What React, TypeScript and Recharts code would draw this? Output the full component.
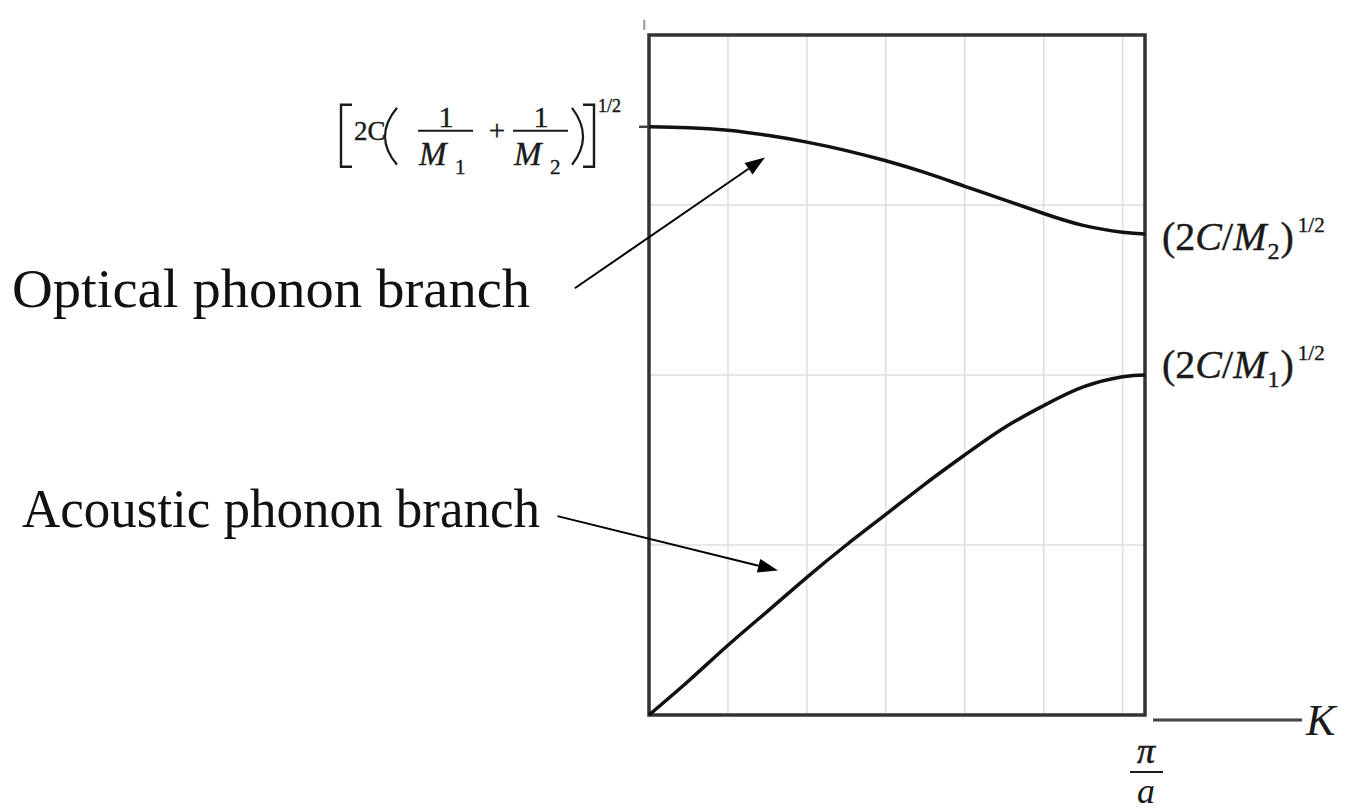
import React from "react";
import {
  LineChart,
  Line,
  XAxis,
  YAxis,
  CartesianGrid,
  ReferenceArea,
  ReferenceLine,
} from "recharts";

// K·a across the first Brillouin zone, 0 .. π
const kValues = [0, 0.25, 0.5, 0.75, 1, 1.25, 1.5, 1.75, 2, 2.25, 2.5, 2.75, 3, Math.PI];
// ω for the two branches (same arbitrary units as the grid)
const opticalBranch = [3.46, 3.455, 3.44, 3.41, 3.37, 3.32, 3.26, 3.19, 3.11, 3.03, 2.95, 2.88, 2.84, 2.83];
const acousticBranch = [0, 0.2, 0.41, 0.61, 0.81, 1.0, 1.18, 1.36, 1.53, 1.69, 1.82, 1.93, 1.99, 2.0];

const gridK = [0, 0.5, 1, 1.5, 2, 2.5, 3, Math.PI];
const gridW = [1, 2, 3];
const branchNames = ["Optical phonon branch", "Acoustic phonon branch"];

const rows = kValues.map((k, i) => ({
  k,
  optical: opticalBranch[i],
  acoustic: acousticBranch[i],
}));

// arrow annotations, in chart units (tail -> head)
const arrows = [
  [{ x: -0.47, y: 2.51 }, { x: 0.735, y: 3.28 }],
  [{ x: -0.58, y: 1.17 }, { x: 0.817, y: 0.85 }],
];

const MATH = "'Liberation Serif', 'Times New Roman', serif";
const TEXT = "'Liberation Serif', 'Times New Roman', serif";
const INK = "#1a1a1a";
const W_DOMAIN: [number, number] = [0, 4];

const Arrow = (props: any) => {
  const { x1, y1, x2, y2 } = props;
  const a = Math.atan2(y2 - y1, x2 - x1);
  const len = 20;
  const half = 7;
  const bx = x2 - len * Math.cos(a);
  const by = y2 - len * Math.sin(a);
  const px = half * Math.sin(a);
  const py = -half * Math.cos(a);
  return (
    <g>
      <line x1={x1} y1={y1} x2={bx} y2={by} stroke="#000" strokeWidth={2} />
      <polygon
        points={`${x2},${y2} ${bx + px},${by + py} ${bx - px},${by - py}`}
        fill="#000"
      />
    </g>
  );
};

// [2C(1/M1 + 1/M2)]^1/2 next to the left tick
const ZoneCentreTick = (props: any) => {
  const ex = props.x;
  const ey = props.y;
  const frac = (left: number, sub: string) => (
    <g>
      <text x={left + 28} y={ey} fontSize={30} textAnchor="middle">1</text>
      <line x1={left} x2={left + 55} y1={ey + 4} y2={ey + 4} stroke={INK} strokeWidth={2} />
      <text x={left + 1} y={ey + 38} fontSize={33} fontStyle="italic">M</text>
      <text x={left + 37} y={ey + 47} fontSize={21}>{sub}</text>
    </g>
  );
  return (
    <g fill={INK} fontFamily={MATH} stroke={INK} strokeWidth={0.4}>
      <path
        d={`M${ex - 284} ${ey - 22} H${ex - 295} V${ey + 40} H${ex - 284}`}
        strokeWidth={2.4}
        fill="none"
      />
      <text x={ex - 282} y={ey + 13} fontSize={27}>2C</text>
      <path
        d={`M${ex - 239} ${ey - 19} Q${ex - 263} ${ey + 10} ${ex - 239} ${ey + 38}`}
        strokeWidth={2.2}
        fill="none"
      />
      {frac(ex - 218, "1")}
      <text x={ex - 139} y={ey + 13} fontSize={29} textAnchor="middle">+</text>
      {frac(ex - 123, "2")}
      <path
        d={`M${ex - 64} ${ey - 19} Q${ex - 42} ${ey + 10} ${ex - 64} ${ey + 38}`}
        strokeWidth={2.2}
        fill="none"
      />
      <path
        d={`M${ex - 53} ${ey - 22} H${ex - 42} V${ey + 40} H${ex - 53}`}
        strokeWidth={2.4}
        fill="none"
      />
      <text x={ex - 38} y={ey - 15} fontSize={18}>1/2</text>
    </g>
  );
};

// (2C/M2)^1/2 and (2C/M1)^1/2 at the zone edge
const edgeMass = ["2", "1"];
const edgeShift = [16, 3];
const ZoneEdgeTick = (props: any) => {
  const { x, y, index } = props;
  const base = y + edgeShift[index];
  return (
    <text x={x} y={base} fontFamily={MATH} fontSize={40} fill={INK} stroke={INK} strokeWidth={0.4}>
      (2<tspan fontStyle="italic">C</tspan>/<tspan fontStyle="italic">M</tspan>
      <tspan fontSize={24} dy={9} dx={1}>{edgeMass[index]}</tspan>
      <tspan fontSize={40} dy={-9} dx={1}>)</tspan>
      <tspan fontSize={21} dy={-18} dx={4}>1/2</tspan>
    </text>
  );
};

// π/a under the zone edge, plus the K axis stub
const KTick = (props: any) => {
  const { x, y, payload } = props;
  if (payload.value !== Math.PI) return <g />;
  return (
    <g fontFamily={MATH} fill={INK}>
      <text x={x + 1} y={y + 48} fontSize={36} fontStyle="italic" textAnchor="middle" stroke={INK} strokeWidth={0.6}>π</text>
      <line x1={x - 15} x2={x + 18} y1={y + 57} y2={y + 57} stroke={INK} strokeWidth={2} />
      <text x={x + 1} y={y + 88} fontSize={36} fontStyle="italic" textAnchor="middle">a</text>
      <line x1={x + 8} x2={x + 157} y1={y + 5} y2={y + 5} stroke="#444" strokeWidth={3} />
      <text x={x + 161} y={y + 20} fontSize={44} fontStyle="italic">K</text>
    </g>
  );
};

export default function App() {
  return (
    <div style={{ position: "absolute", left: 0, top: 0, width: 1354, height: 811, background: "#fff" }}>
      <LineChart
        width={1354}
        height={811}
        data={rows}
        margin={{ top: 35, right: 9, bottom: 36, left: 329 }}
      >
        <CartesianGrid yAxisId="w" horizontalValues={gridW} stroke="#dedede" strokeWidth={1.5} />
        <XAxis
          dataKey="k"
          type="number"
          domain={[0, Math.PI]}
          ticks={gridK}
          interval={0}
          height={60}
          axisLine={false}
          tickLine={false}
          tickSize={0}
          tickMargin={0}
          tick={<KTick />}
        />
        <YAxis
          yAxisId="w"
          type="number"
          domain={W_DOMAIN}
          ticks={[opticalBranch[0]]}
          interval={0}
          width={320}
          axisLine={false}
          tickSize={10}
          tickMargin={3}
          tickLine={{ stroke: "#444", strokeWidth: 2.5 }}
          tick={<ZoneCentreTick />}
        />
        <YAxis
          yAxisId="wr"
          orientation="right"
          type="number"
          domain={W_DOMAIN}
          ticks={[opticalBranch[opticalBranch.length - 1], acousticBranch[acousticBranch.length - 1]]}
          interval={0}
          width={200}
          axisLine={false}
          tickLine={false}
          tickSize={0}
          tickMargin={17}
          tick={<ZoneEdgeTick />}
        />
        <ReferenceArea
          yAxisId="w"
          x1={0}
          x2={Math.PI}
          y1={0}
          y2={4}
          fill="none"
          stroke="#333"
          strokeWidth={3.5}
          ifOverflow="visible"
        />
        <ReferenceLine
          yAxisId="w"
          segment={[{ x: -0.03, y: 4.03 }, { x: -0.03, y: 4.09 }]}
          stroke="#999"
          strokeWidth={2}
          ifOverflow="visible"
        />
        <Line
          yAxisId="w"
          type="natural"
          dataKey="optical"
          stroke="#111"
          strokeWidth={3.5}
          dot={false}
          isAnimationActive={false}
        />
        <Line
          yAxisId="wr"
          type="natural"
          dataKey="acoustic"
          stroke="#111"
          strokeWidth={3.5}
          dot={false}
          isAnimationActive={false}
        />
        {arrows.map((seg, i) => (
          <ReferenceLine
            key={i}
            yAxisId="w"
            segment={seg}
            ifOverflow="visible"
            shape={<Arrow />}
          />
        ))}
        <text x={12} y={307} fontFamily={TEXT} fontSize={55} fill="#111" textLength={518} lengthAdjust="spacingAndGlyphs">
          {branchNames[0]}
        </text>
        <text x={22} y={527} fontFamily={TEXT} fontSize={55} fill="#111" textLength={518} lengthAdjust="spacingAndGlyphs">
          {branchNames[1]}
        </text>
      </LineChart>
    </div>
  );
}
